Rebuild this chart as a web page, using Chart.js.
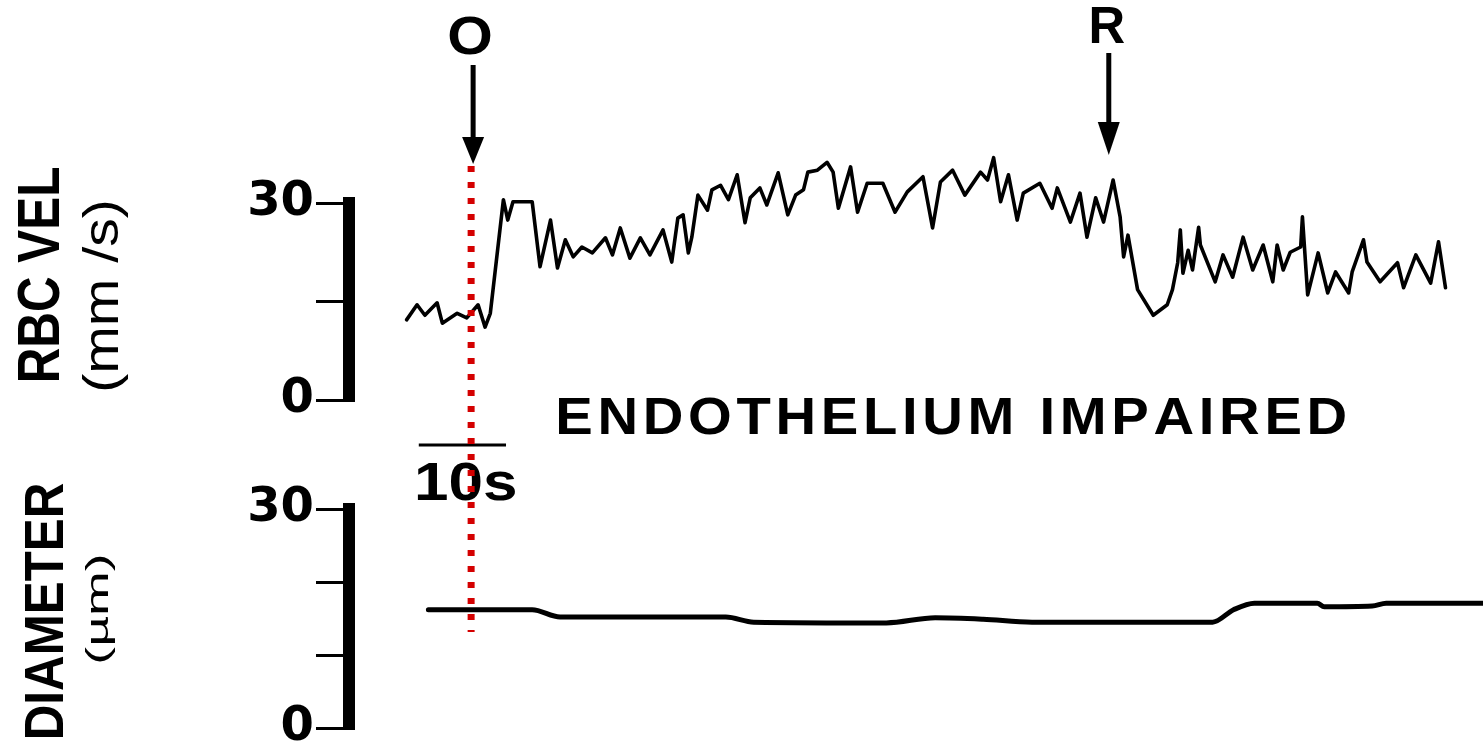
<!DOCTYPE html>
<html>
<head>
<meta charset="utf-8">
<script src="https://cdn.jsdelivr.net/npm/chart.js@4/dist/chart.umd.min.js"></script>
<style>
  html, body { margin: 0; padding: 0; background: #fff; overflow: hidden; width: 1483px; height: 751px; }
  canvas { position: absolute; left: 0; top: 0; }
</style>
</head>
<body>
<canvas id="vel" width="1483" height="800"></canvas>
<canvas id="dia" width="1483" height="800"></canvas>
<script>
// Red blood cell velocity trace (time in s, velocity in mm/s)
const velTime = [6.6,7.8,8.7,10.1,10.7,12.4,13.5,14.8,15.6,16.2,
  17.7,18.2,18.8,21.0,21.9,23.1,23.9,24.8,25.7,26.7,
  27.9,29.4,30.2,31.1,32.2,33.4,34.5,36.0,37.0,37.7,
  38.3,38.9,39.3,40.0,41.1,41.6,42.6,43.5,44.5,45.4,
  46.0,47.1,47.9,49.2,50.3,51.2,52.1,52.6,53.7,54.8,
  55.5,56.1,57.5,58.3,59.4,61.2,62.6,64.0,65.8,66.9,
  67.8,69.2,70.6,72.4,73.2,73.9,74.7,75.6,76.6,77.3,
  79.2,80.6,81.2,82.7,83.8,84.6,85.6,86.5,87.6,88.4,
  88.8,89.3,90.4,92.2,93.8,94.4,95.0,95.3,95.6,96.2,
  96.7,97.4,97.6,99.3,100.2,101.3,102.5,103.6,104.8,105.9,
  106.4,107.1,107.9,109.1,109.3,109.9,111.1,112.2,113.1,114.6,
  115.0,116.3,116.7,118.2,120.2,120.9,122.3,124.0,124.9,125.7];
const velValues = [12.2,14.5,12.9,14.8,11.7,13.2,12.5,14.5,11.1,13.2,
  30.5,27.4,30.2,30.2,20.3,27.4,20.1,24.4,21.8,23.3,
  22.4,24.7,22.1,26.2,21.6,24.7,22.1,25.9,21.0,27.7,
  28.2,22.4,24.8,31.2,28.9,32.0,32.7,30.5,34.3,27.0,
  30.8,32.3,29.7,34.6,28.2,31.2,32.0,34.7,35.0,36.2,
  34.7,29.2,35.5,28.6,33.0,33.0,28.6,31.7,34.0,26.2,
  33.2,35.0,31.2,34.7,33.5,36.9,30.2,34.3,27.4,31.5,
  33.0,29.2,32.3,27.1,31.5,24.8,30.8,27.1,33.5,27.9,
  21.8,25.1,16.8,12.9,14.5,16.8,20.9,25.9,19.3,22.8,
  19.8,26.3,23.6,18.0,22.1,18.7,24.8,19.8,23.6,18.0,
  23.6,19.8,22.5,23.3,27.9,16.0,22.4,16.3,19.5,16.3,
  19.5,24.4,21.0,18.0,20.9,17.1,22.1,17.8,24.1,17.1];

// Vessel diameter trace (time in s, diameter in µm)
const diaTime = [9.1,21.0,24.2,43.2,46.4,61.6,67.2,72.7,78.3,99.0,101.4,103.8,111.0,111.8,117.3,118.9,130.0];
const diaValues = [16.2,16.2,15.2,15.2,14.5,14.4,15.1,14.9,14.5,14.5,16.2,17.1,17.1,16.6,16.7,17.1,17.1];

// Axis ticks
const velTicks = [0, 15, 30];
const diaTicks = [0, 10, 20, 30];
const labeledTicks = [0, 30];

// Event markers: occlusion (O) and release (R)
const markerLabels = ['O', 'R'];
const markerTimes = [14.0, 87.1];

// Time scale bar
const scaleBarStart = 8.0;
const scaleBarLength = 10;
const scaleBarLabel = '10s';

const condition = 'ENDOTHELIUM IMPAIRED';
const velTitle = ['RBC VEL', '(mm /s)'];
const diaTitle = ['DIAMETER', '(\u00b5m)'];

const T_MAX = 130;
const AXIS_RIGHT = 349;
const SANS = '"Liberation Sans", Arial, sans-serif';

// Draws text so that its ink box fills the given rectangle; rot = true reads bottom-to-top.
// Optional extra spacing (in font units) is placed between characters.
function inkText(ctx, text, font, x0, y0, x1, y1, rot, spacing) {
  spacing = spacing || 0;
  ctx.save();
  ctx.font = font;
  ctx.textAlign = 'left';
  ctx.textBaseline = 'alphabetic';
  ctx.fillStyle = '#000';
  const m = ctx.measureText(text);
  const chars = Array.from(text);
  let w;
  if (spacing) {
    // ink extent of a per-character layout
    let x = 0, minX = Infinity, maxX = -Infinity;
    for (const c of chars) {
      const cm = ctx.measureText(c);
      if (c !== ' ') {
        minX = Math.min(minX, x - cm.actualBoundingBoxLeft);
        maxX = Math.max(maxX, x + cm.actualBoundingBoxRight);
      }
      x += cm.width + spacing;
    }
    w = maxX - minX;
    m.actualBoundingBoxLeft = -minX;
  } else {
    w = m.actualBoundingBoxLeft + m.actualBoundingBoxRight;
  }
  const h = m.actualBoundingBoxAscent + m.actualBoundingBoxDescent;
  const left = m.actualBoundingBoxLeft;
  if (rot) {
    ctx.translate(x0, y1);
    ctx.rotate(-Math.PI / 2);
    ctx.scale((y1 - y0) / w, (x1 - x0) / h);
  } else {
    ctx.translate(x0, y0);
    ctx.scale((x1 - x0) / w, (y1 - y0) / h);
  }
  if (spacing) {
    let x = left;
    for (const c of chars) {
      ctx.fillText(c, x, m.actualBoundingBoxAscent);
      x += ctx.measureText(c).width + spacing;
    }
  } else {
    ctx.fillText(text, left, m.actualBoundingBoxAscent);
  }
  ctx.restore();
}

function arrow(ctx, x, yTop, yHeadStart, yTip, halfW) {
  ctx.save();
  ctx.fillStyle = '#000';
  ctx.strokeStyle = '#000';
  ctx.lineWidth = 5;
  ctx.beginPath();
  ctx.moveTo(x, yTop);
  ctx.lineTo(x, yHeadStart + 4);
  ctx.stroke();
  ctx.beginPath();
  ctx.moveTo(x - halfW, yHeadStart);
  ctx.lineTo(x + halfW, yHeadStart);
  ctx.lineTo(x, yTip);
  ctx.closePath();
  ctx.fill();
  ctx.restore();
}

const annotations = {
  id: 'annotations',
  afterDraw(chart) {
    const ctx = chart.ctx;
    const xs = chart.scales.x;

    // Axis titles
    inkText(ctx, velTitle[0], 'bold 60px ' + SANS, 17, 168, 60, 380, true);
    inkText(ctx, velTitle[1], '60px ' + SANS, 83, 202, 128, 390, true);
    inkText(ctx, diaTitle[0], 'bold 60px ' + SANS, 25, 483, 63, 737, true);
    inkText(ctx, diaTitle[1], '60px ' + SANS, 85, 556, 114, 662, true);

    // Condition label
    inkText(ctx, condition, 'bold 60px ' + SANS, 559, 398, 1345, 435, false, 5);

    // Time scale bar
    const sx0 = xs.getPixelForValue(scaleBarStart);
    const sx1 = xs.getPixelForValue(scaleBarStart + scaleBarLength);
    ctx.save();
    ctx.strokeStyle = '#000';
    ctx.lineWidth = 3;
    ctx.beginPath();
    ctx.moveTo(sx0, 445);
    ctx.lineTo(sx1, 445);
    ctx.stroke();
    ctx.restore();
    inkText(ctx, scaleBarLabel, 'bold 60px ' + SANS, 417, 462, 515, 501, false);

    // Event arrows
    const xo = xs.getPixelForValue(markerTimes[0]);
    const xr = xs.getPixelForValue(markerTimes[1]);
    inkText(ctx, markerLabels[0], 'bold 60px ' + SANS, xo - 22, 16, xo + 20, 55, false);
    arrow(ctx, xo + 2, 65, 137, 164, 11);
    inkText(ctx, markerLabels[1], 'bold 60px ' + SANS, xr - 17, 8, xr + 16, 43, false);
    arrow(ctx, xr, 53, 122, 155, 11);

    // Dotted marker line at occlusion onset
    ctx.save();
    ctx.strokeStyle = '#d40000';
    ctx.lineWidth = 7;
    ctx.setLineDash([6, 10]);
    ctx.beginPath();
    ctx.moveTo(xo, 166);
    ctx.lineTo(xo, 632);
    ctx.stroke();
    ctx.restore();
  }
};

function yAxis(ticks) {
  return {
    min: 0,
    max: 30,
    afterFit(scale) { scale.width = AXIS_RIGHT; },
    afterBuildTicks(scale) { scale.ticks = ticks.map(v => ({ value: v })); },
    border: { display: true, color: '#000', width: 12 },
    grid: { drawOnChartArea: false, drawTicks: true, tickLength: 33, color: '#000', lineWidth: 3 },
    ticks: {
      color: '#000',
      padding: 2,
      font: { family: '"DejaVu Sans", sans-serif', weight: 'bold', size: 48, lineHeight: 1 },
      callback: v => labeledTicks.includes(v) ? String(v) : ''
    }
  };
}

function traceChart(id, times, values, width, top, bottom, smooth, plugins) {
  return new Chart(document.getElementById(id), {
    type: 'line',
    data: {
      datasets: [{
        data: times.map((t, i) => ({ x: t, y: values[i] })),
        borderColor: '#000',
        borderWidth: width,
        pointRadius: 0,
        fill: false,
        clip: false,
        tension: 0,
        cubicInterpolationMode: smooth ? 'monotone' : 'default',
        borderJoinStyle: 'round',
        borderCapStyle: 'round'
      }]
    },
    options: {
      responsive: false,
      animation: false,
      devicePixelRatio: 1,
      events: [],
      layout: { padding: { left: 0, right: 0, top: top, bottom: 800 - bottom } },
      plugins: { legend: { display: false }, tooltip: { enabled: false } },
      scales: {
        x: { type: 'linear', min: 0, max: T_MAX, display: false },
        y: yAxis(id === 'vel' ? velTicks : diaTicks)
      }
    },
    plugins: plugins
  });
}

traceChart('vel', velTime, velValues, 3.6, 203, 400, false, []);
traceChart('dia', diaTime, diaValues, 5, 509, 728, true, [annotations]);
</script>
</body>
</html>
